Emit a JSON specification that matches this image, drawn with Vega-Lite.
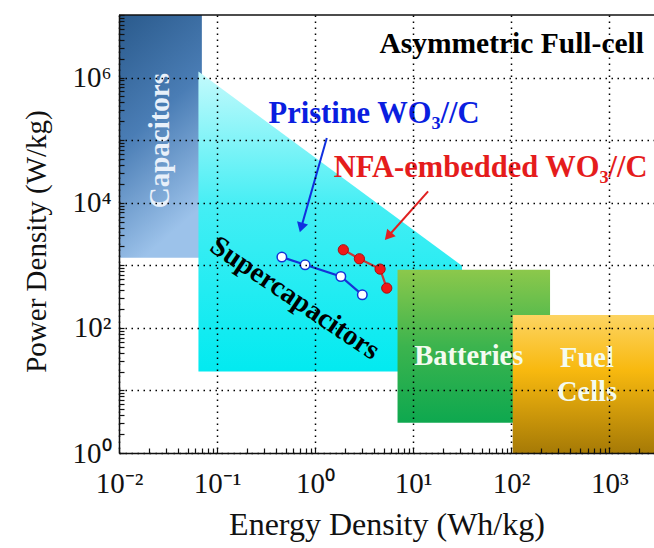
{
  "$schema": "https://vega.github.io/schema/vega-lite/v6.json",
  "width": 535,
  "height": 438,
  "autosize": {"type": "none"},
  "padding": {"left": 119, "top": 15, "right": 0, "bottom": 95},
  "background": "white",
  "config": {"view": {"stroke": null}, "font": "Liberation Serif"},
  "datasets": {
    "capacitors": [{"x": 0.01, "x2": 0.070, "y": 1e7, "y2": 1320}],
    "supercap": [{"x": 0.0646, "y": 1250000, "y2": 20}, {"x": 31.5, "y": 982, "y2": 20}],
    "batteries": [{"x": 6.93, "x2": 249, "y": 847, "y2": 3.05}],
    "fuelcells": [{"x": 103.6, "x2": 2860, "y": 161, "y2": 1}],
    "pristine": [{"x": 0.458, "y": 1352}, {"x": 0.791, "y": 1019}, {"x": 1.83, "y": 662}, {"x": 3.03, "y": 337}],
    "nfa": [{"x": 1.94, "y": 1770}, {"x": 2.83, "y": 1270}, {"x": 4.60, "y": 869}, {"x": 5.38, "y": 432}],
    "border": [{"x": 0.01, "x2": 2860, "y": 1e7}]
  },
  "encoding": {
    "x": {
      "field": "x", "type": "quantitative",
      "scale": {"type": "log", "domain": [0.01, 2860], "nice": false},
      "axis": {
        "title": "Energy Density (Wh/kg)",
        "titleFont": "Liberation Serif", "titleFontSize": 32, "titleFontWeight": "normal", "titleColor": "#111111",
        "titleX": 267.5, "titleY": 81, "titleBaseline": "alphabetic", "titleAlign": "center", "titleAnchor": null,
        "values": [0.01,0.02,0.03,0.04,0.05,0.06,0.07,0.08,0.09,0.1,0.2,0.3,0.4,0.5,0.6,0.7,0.8,0.9,1,2,3,4,5,6,7,8,9,10,20,30,40,50,60,70,80,90,100,200,300,400,500,600,700,800,900,1000,2000],
        "labelExpr": "abs(log(datum.value)/LN10 - round(log(datum.value)/LN10)) < 0.01 ? '10' + (round(log(datum.value)/LN10) < 0 ? '⁻' : '') + ['⁰','¹','²','³','⁴','⁵','⁶','⁷'][abs(round(log(datum.value)/LN10))] : ''",
        "labelFont": "Liberation Serif", "labelFontSize": 29, "labelColor": "#111111", "labelPadding": 21,
        "labelOverlap": false, "labelFlush": false, "labelBound": false,
        "tickSize": -5, "tickColor": "#111111", "tickWidth": 1.2,
        "domainColor": "#111111", "domainWidth": 1.5,
        "grid": true, "gridColor": "#000000", "gridDash": [1.5, 4.5], "gridWidth": 1.5,
        "gridOpacity": {"condition": {"test": "abs(log(datum.value)/LN10 - round(log(datum.value)/LN10)) < 0.01", "value": 1}, "value": 0},
        "zindex": 1
      }
    },
    "y": {
      "field": "y", "type": "quantitative",
      "scale": {"type": "log", "domain": [1, 10000000], "nice": false},
      "axis": {
        "title": "Power Density (W/kg)",
        "titleFont": "Liberation Serif", "titleFontSize": 29, "titleFontWeight": "normal", "titleColor": "#111111",
        "titleAngle": -90, "titleX": -74, "titleY": 226, "titleBaseline": "alphabetic", "titleAlign": "center", "titleAnchor": null,
        "values": [1,2,3,4,5,6,7,8,9,10,20,30,40,50,60,70,80,90,100,200,300,400,500,600,700,800,900,1000,2000,3000,4000,5000,6000,7000,8000,9000,10000,20000,30000,40000,50000,60000,70000,80000,90000,100000,200000,300000,400000,500000,600000,700000,800000,900000,1000000,2000000,3000000,4000000,5000000,6000000,7000000,8000000,9000000,10000000],
        "labelExpr": "abs(log(datum.value)/LN10 - round(log(datum.value)/LN10)) < 0.01 && round(log(datum.value)/LN10) % 2 == 0 && round(log(datum.value)/LN10) < 7 ? '10' + ['⁰','¹','²','³','⁴','⁵','⁶','⁷'][round(log(datum.value)/LN10)] : ''",
        "labelFont": "Liberation Serif", "labelFontSize": 29, "labelColor": "#111111", "labelPadding": 13,
        "labelOverlap": false, "labelFlush": false, "labelBound": false,
        "tickSize": -5, "tickColor": "#111111", "tickWidth": 1.2,
        "domainColor": "#111111", "domainWidth": 1.5,
        "grid": true, "gridColor": "#000000", "gridDash": [1.5, 4.5], "gridWidth": 1.5,
        "gridOpacity": {"condition": {"test": "abs(log(datum.value)/LN10 - round(log(datum.value)/LN10)) < 0.01 && datum.value < 5000000", "value": 1}, "value": 0},
        "zindex": 1
      }
    }
  },
  "layer": [
    {
      "data": {"name": "capacitors"},
      "mark": {"type": "rect", "fill": {"gradient": "linear", "x1": 0, "y1": 0, "x2": 0.3, "y2": 1, "stops": [{"offset": 0, "color": "#2a5a8c"}, {"offset": 0.5, "color": "#4a7db5"}, {"offset": 1, "color": "#9cc2ea"}]}},
      "encoding": {"x2": {"field": "x2"}, "y2": {"field": "y2"}}
    },
    {
      "data": {"name": "supercap"},
      "mark": {"type": "area", "interpolate": "linear", "fill": {"gradient": "linear", "x1": 0, "y1": 0, "x2": 0, "y2": 1, "stops": [{"offset": 0, "color": "#c4fafc"}, {"offset": 0.45, "color": "#44eef4"}, {"offset": 1, "color": "#02eaf0"}]}},
      "encoding": {"y2": {"field": "y2"}}
    },
    {
      "data": {"name": "batteries"},
      "mark": {"type": "rect", "fill": {"gradient": "linear", "x1": 0, "y1": 0, "x2": 0, "y2": 1, "stops": [{"offset": 0, "color": "#8cc84b"}, {"offset": 0.5, "color": "#3cb44e"}, {"offset": 1, "color": "#0ea84f"}]}},
      "encoding": {"x2": {"field": "x2"}, "y2": {"field": "y2"}}
    },
    {
      "data": {"name": "fuelcells"},
      "mark": {"type": "rect", "fill": {"gradient": "linear", "x1": 0, "y1": 0, "x2": 0, "y2": 1, "stops": [{"offset": 0, "color": "#fdd462"}, {"offset": 0.4, "color": "#f8b90f"}, {"offset": 1, "color": "#a67a06"}]}},
      "encoding": {"x2": {"field": "x2"}, "y2": {"field": "y2"}}
    },
    {
      "data": {"values": [{"x": 0.0263, "y": 98200, "t": "Capacitors"}]},
      "mark": {"type": "text", "angle": 270, "align": "center", "baseline": "middle", "font": "Liberation Serif", "fontWeight": "bold", "fontSize": 29, "color": "#e8f0fa"},
      "encoding": {"text": {"field": "t"}}
    },
    {
      "data": {"values": [{"x": 0.625, "y": 302, "t": "Supercapacitors"}]},
      "mark": {"type": "text", "angle": 34, "align": "center", "baseline": "middle", "font": "Liberation Serif", "fontWeight": "bold", "fontSize": 28.5, "color": "#000000"},
      "encoding": {"text": {"field": "t"}}
    },
    {
      "data": {"values": [{"x": 36.9, "y": 35.6, "t": "Batteries"}, {"x": 593, "y": 33.1, "t": "Fuel"}, {"x": 593, "y": 9.46, "t": "Cells"}]},
      "mark": {"type": "text", "align": "center", "baseline": "middle", "font": "Liberation Serif", "fontWeight": "bold", "fontSize": 28.5, "color": "#f4fbf0"},
      "encoding": {"text": {"field": "t"}}
    },
    {
      "data": {"name": "pristine"},
      "mark": {"type": "line", "color": "#1533d6", "strokeWidth": 2.2}
    },
    {
      "data": {"name": "pristine"},
      "mark": {"type": "point", "shape": "circle", "filled": true, "fill": "#ffffff", "stroke": "#1533d6", "strokeWidth": 1.5, "size": 90, "opacity": 1}
    },
    {
      "data": {"name": "nfa"},
      "mark": {"type": "line", "color": "#c83636", "strokeWidth": 2.2}
    },
    {
      "data": {"name": "nfa"},
      "mark": {"type": "point", "shape": "circle", "filled": true, "fill": "#f01818", "stroke": "#a81010", "strokeWidth": 1, "size": 105, "opacity": 1}
    },
    {
      "data": {"values": [{"x": 1.316, "y": 108000, "x2": 0.721, "y2": 4000}]},
      "mark": {"type": "rule", "color": "#1030e0", "strokeWidth": 2},
      "encoding": {"x2": {"field": "x2"}, "y2": {"field": "y2"}}
    },
    {
      "data": {"values": [{"x": 0.721, "y": 4000}]},
      "mark": {"type": "point", "shape": "triangle-up", "filled": true, "color": "#1030e0", "size": 130, "angle": 196, "opacity": 1}
    },
    {
      "data": {"values": [{"x": 14.2, "y": 15200, "x2": 5.56, "y2": 2910}]},
      "mark": {"type": "rule", "color": "#e02020", "strokeWidth": 2},
      "encoding": {"x2": {"field": "x2"}, "y2": {"field": "y2"}}
    },
    {
      "data": {"values": [{"x": 5.56, "y": 2910}]},
      "mark": {"type": "point", "shape": "triangle-up", "filled": true, "color": "#e02020", "size": 130, "angle": 221.6, "opacity": 1}
    },
    {
      "data": {"values": [{"x": 3.99, "y": 265000, "t": "Pristine WO₃//C"}]},
      "mark": {"type": "text", "align": "center", "baseline": "middle", "font": "Liberation Serif", "fontWeight": "bold", "fontSize": 30.5, "color": "#0a1ee0"},
      "encoding": {"text": {"field": "t"}}
    },
    {
      "data": {"values": [{"x": 61.7, "y": 36300, "t": "NFA-embedded WO₃//C"}]},
      "mark": {"type": "text", "align": "center", "baseline": "middle", "font": "Liberation Serif", "fontWeight": "bold", "fontSize": 30.5, "color": "#e51c1c"},
      "encoding": {"text": {"field": "t"}}
    },
    {
      "data": {"values": [{"x": 2259, "y": 3500000, "t": "Asymmetric Full-cell"}]},
      "mark": {"type": "text", "align": "right", "baseline": "middle", "font": "Liberation Serif", "fontWeight": "bold", "fontSize": 29.5, "color": "#000000"},
      "encoding": {"text": {"field": "t"}}
    },
    {
      "data": {"name": "border"},
      "mark": {"type": "rule", "color": "#111111", "strokeWidth": 1.5},
      "encoding": {"x2": {"field": "x2"}}
    }
  ]
}
